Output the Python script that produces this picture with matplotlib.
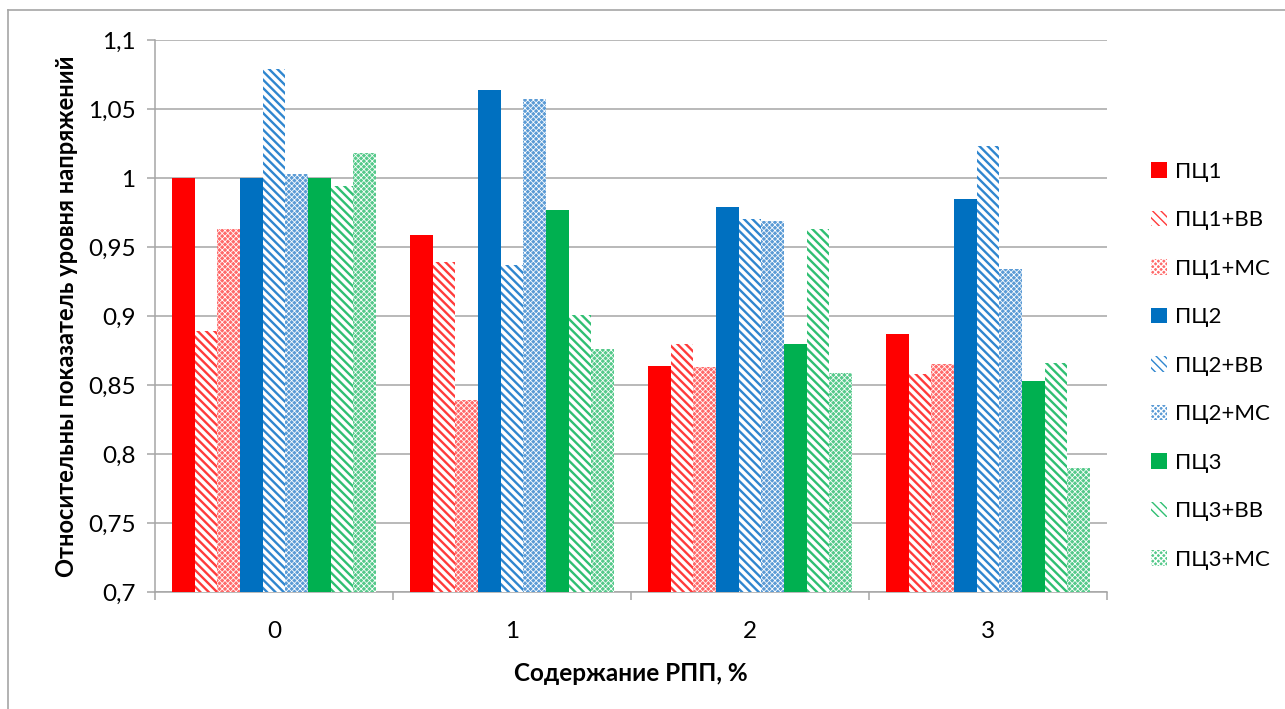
import matplotlib
matplotlib.use("Agg")
import matplotlib.pyplot as plt
from matplotlib.patches import Patch
from matplotlib.lines import Line2D
import numpy as np

# Data
categories = ["0", "1", "2", "3"]
series_names = ["ПЦ1", "ПЦ1+ВВ", "ПЦ1+МС",
                "ПЦ2", "ПЦ2+ВВ", "ПЦ2+МС",
                "ПЦ3", "ПЦ3+ВВ", "ПЦ3+МС"]
pc1 = [1.000, 0.959, 0.864, 0.887]
pc1_vv = [0.889, 0.939, 0.880, 0.858]
pc1_ms = [0.963, 0.839, 0.863, 0.865]
pc2 = [1.000, 1.064, 0.979, 0.985]
pc2_vv = [1.079, 0.937, 0.970, 1.023]
pc2_ms = [1.003, 1.057, 0.969, 0.934]
pc3 = [1.000, 0.977, 0.880, 0.853]
pc3_vv = [0.994, 0.901, 0.963, 0.866]
pc3_ms = [1.018, 0.876, 0.859, 0.790]
yticks = [0.7, 0.75, 0.8, 0.85, 0.9, 0.95, 1.0, 1.05, 1.1]
ytick_labels = ["0,7", "0,75", "0,8", "0,85", "0,9", "0,95", "1", "1,05", "1,1"]

series_values = [pc1, pc1_vv, pc1_ms, pc2, pc2_vv, pc2_ms, pc3, pc3_vv, pc3_ms]

# Styling
base = {"ПЦ1": "#FF0000", "ПЦ2": "#0070C0", "ПЦ3": "#00B050"}
checker = {"ПЦ1": "#FF6A6A", "ПЦ2": "#5B9BD5", "ПЦ3": "#55C98A"}
stripe = {"ПЦ1": "#FF3B3B", "ПЦ2": "#2F86CF", "ПЦ3": "#2FBF72"}

plt.rcParams["font.family"] = ["Lato", "DejaVu Sans"]
FS_TICK = 17.5
FS_LEG = 16

fig = plt.figure(figsize=(12.85, 7.09), dpi=100)
ax = fig.add_axes([155 / 1285, 1 - 592 / 709, (1107 - 155) / 1285, (592 - 40) / 709])

x = np.arange(len(categories))
w = 1 / 10.5


def style_for(name):
    key = name.split("+")[0]
    if name.endswith("ВВ"):
        return dict(facecolor="white", edgecolor=stripe[key], hatch="\\\\\\\\", hlw=1.7)
    if name.endswith("МС"):
        return dict(facecolor=checker[key], edgecolor="white", hatch="xxxxxx", hlw=0.55)
    return dict(facecolor=base[key], edgecolor=base[key], hatch=None, hlw=1.0)


handles = []
for i, (name, vals) in enumerate(zip(series_names, series_values)):
    st = style_for(name)
    with plt.rc_context({"hatch.linewidth": st["hlw"]}):
        bars = ax.bar(x + (i - 4) * w, np.array(vals) - 0.7, bottom=0.7, width=w,
                      facecolor=st["facecolor"], edgecolor=st["edgecolor"],
                      hatch=st["hatch"], linewidth=0, zorder=3)
        for b in bars:
            if hasattr(b, "set_hatch_linewidth"):
                b.set_hatch_linewidth(st["hlw"])
        h = Patch(facecolor=st["facecolor"], edgecolor=st["edgecolor"],
                  hatch=st["hatch"], linewidth=0, label=name)
        if hasattr(h, "set_hatch_linewidth"):
            h.set_hatch_linewidth(st["hlw"])
        handles.append(h)

ax.set_xlim(-0.5, 3.5)
ax.set_ylim(0.7, 1.1)

grid_color = "#A6A6A6"
ax.set_yticks(yticks)
ax.set_yticklabels(ytick_labels)
ax.yaxis.grid(True, color=grid_color, linewidth=1.1, zorder=0)
ax.set_axisbelow(True)

ax.set_xticks([-0.5, 0.5, 1.5, 2.5, 3.5])
ax.set_xticklabels([])
ax.set_xticks(x, minor=True)
ax.set_xticklabels(categories, minor=True)
ax.tick_params(axis="x", which="minor", length=0, pad=21, labelsize=FS_TICK)
ax.tick_params(axis="x", which="major", length=6, width=1.1, color=grid_color, direction="out")
ax.tick_params(axis="y", length=6, width=1.1, color=grid_color, direction="out",
               labelsize=FS_TICK, pad=8)

for s in ["top", "right"]:
    ax.spines[s].set_visible(False)
for s in ["left", "bottom"]:
    ax.spines[s].set_color(grid_color)
    ax.spines[s].set_linewidth(1.1)

ax.set_xlabel("Содержание РПП, %", fontsize=17.5, fontweight="bold", labelpad=14)
ax.set_ylabel("Относительны показатель уровня напряжений", fontsize=17,
              fontweight="bold")
ax.yaxis.set_label_coords((78 - 155) / 952, 0.5)

ax.legend(handles=handles, loc="upper left", bbox_to_anchor=(1151 / 1285, 1 - 162 / 709),
          bbox_transform=fig.transFigure, frameon=False, fontsize=FS_LEG,
          handlelength=0.7, handleheight=0.7, handletextpad=0.4,
          labelspacing=1.28, borderpad=0, borderaxespad=0)

# Outer chart frame
fig.add_artist(Line2D([8 / 1285, 1.0], [1 - 10 / 709, 1 - 10 / 709],
                      transform=fig.transFigure, color="#A6A6A6", linewidth=1.2))
fig.add_artist(Line2D([8 / 1285, 8 / 1285], [0.0, 1 - 10 / 709],
                      transform=fig.transFigure, color="#A6A6A6", linewidth=1.2))

fig.savefig("out.png", dpi=100)
